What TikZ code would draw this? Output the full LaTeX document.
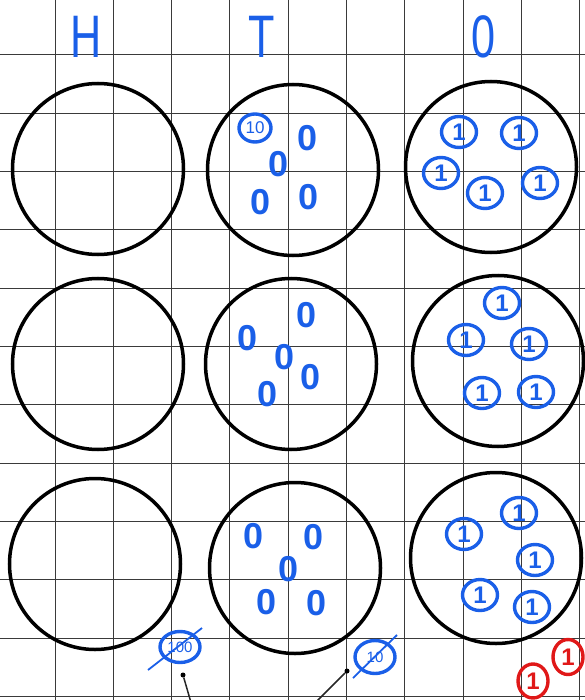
\documentclass[tikz,border=0pt]{standalone}
\usepackage{fontspec}
\setmainfont{Liberation Sans}
\usetikzlibrary{shapes.geometric}
\definecolor{cInk}{HTML}{1A5FE8}
\definecolor{cRed}{HTML}{E01818}
\definecolor{cGrid}{HTML}{3A3A3A}
\tikzset{
  gridline/.style={line width=1pt,cGrid},
  plate/.style={circle,draw=black,line width=3.5pt,minimum size=171pt,inner sep=0pt},
  head/.style={text=cInk,font=\fontsize{60}{60}\selectfont,inner sep=0pt},
  zero/.style={text=cInk,font=\fontsize{36}{36}\selectfont\bfseries,inner sep=0pt},
  one/.style={ellipse,draw=cInk,line width=3.4pt,text=cInk,inner sep=0pt,
              minimum width=35pt,minimum height=31pt,font=\fontsize{24}{24}\selectfont\bfseries},
  redone/.style={one,draw=cRed,text=cRed,minimum width=30pt,minimum height=34pt},
  ten/.style={one,minimum width=32pt,minimum height=28pt,font=\fontsize{17}{17}\selectfont},
  struck/.style={ten,minimum width=40pt,minimum height=31pt,font=\fontsize{15}{15}\selectfont},
  strike/.style={cInk,line width=1.8pt},
  tick/.style={circle,fill=black,inner sep=0pt,minimum size=5pt},
  pointer/.style={line width=1.5pt,black!85},
}
\newcommand{\hand}[1]{\scalebox{0.72}[1]{#1}}

\begin{document}
\begin{tikzpicture}[x=1pt,y=-1pt]
  \useasboundingbox (0,0) rectangle (585,700);
  \clip (0,0) rectangle (585,700);
  % squared paper
  \foreach \k in {0,...,9}{\draw[gridline] ({55+58.33*\k},0) -- ({55+58.33*\k},700);}
  \foreach \k in {0,...,11}{\draw[gridline] (0,{55+58.33*\k}) -- (585,{55+58.33*\k});}
  % column heads
  \node[head] (hdH) at (86,37) {\hand{H}};
  \node[head] (hdT) at (262,37) {\hand{T}};
  \node[head] (hdO) at (484,37) {\hand{0}};
  % plates
  \foreach \n/\x/\y in {h1/98/169,h2/98/364,h3/95/564,t1/293/170,t2/291/364,
      t3/295/568,o1/491/167,o2/498/361,o3/496/558}
    \node[plate] (\n) at (\x,\y) {};
  % tails column
  \node[ten] (t10) at (255,128) {10};
  \foreach \x/\y [count=\i] in {308/138,279/164,261/202,309/197,
      307/315,248/338,285/357,311/377,268/394,
      254/536,314/537,289/569,267/602,317/603}
    \node[zero] (z\i) at (\x,\y) {0};
  % ones column
  \foreach \x/\y [count=\i] in {459/132,519/133,441/173,485/193,540/183,
      502/303,466/340,529/344,482/393,536/392,
      519/513,464/534,535/560,480/595,532/607}
    \node[one] (u\i) at (\x,\y) {1};
  % crossed out coins
  \node[struck] (x100) at (180,647) {100};
  \draw[strike] ([shift={(-32,23)}]x100.center) -- ([shift={(22,-19)}]x100.center);
  \node[tick] (d100) at (183,675) {};
  \coordinate (e100) at (192,706);
  \draw[pointer] (d100) -- (e100);
  \node[struck,minimum height=33pt] (x10) at (375,657) {10};
  \draw[strike] ([shift={(-22,21)}]x10.center) -- ([shift={(22,-22)}]x10.center);
  \node[tick] (d10) at (347,671) {};
  \coordinate (e10) at (312,706);
  \draw[pointer] (d10) -- (e10);
  % red ones
  \node[redone] (r1) at (533,681) {1};
  \node[redone,minimum height=35pt] (r2) at (568,657) {1};
\end{tikzpicture}
\end{document}
